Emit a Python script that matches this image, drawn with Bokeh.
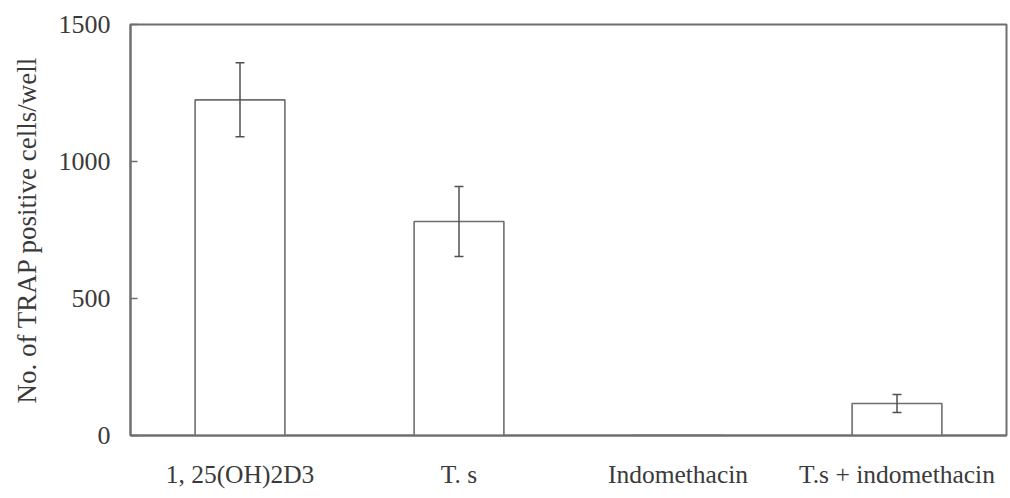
from bokeh.plotting import figure
from bokeh.models import ColumnDataSource, Whisker, TeeHead, FixedTicker, Range1d, FactorRange
from bokeh.embed import file_html
from bokeh.resources import INLINE

# Osteoclast formation per well, mean and SD
treatments = ["1, 25(OH)2D3", "T. s", "Indomethacin", "T.s + indomethacin"]
mean_cells = [1225, 781, 0, 117]
sd_cells = [135, 128, 0, 33]
y_ticks = [0, 500, 1000, 1500]

FONT = "Liberation Serif"
LINE = "#6e6e6e"
TEXT = "#3a3a3a"

p = figure(
    width=1010, height=498,
    x_range=FactorRange(*treatments, range_padding=0),
    y_range=Range1d(0, 1500),
    output_backend="svg", toolbar_location=None,
    min_border_left=130, min_border_right=4, min_border_top=24, min_border_bottom=63,
)

bars = ColumnDataSource(dict(x=treatments, top=mean_cells))
p.vbar(x="x", top="top", width=0.41, source=bars,
       fill_color="white", line_color=LINE, line_width=1.6)

# error bars only where a deviation was measured
idx = [i for i, s in enumerate(sd_cells) if s > 0]
err = ColumnDataSource(dict(
    x=[treatments[i] for i in idx],
    lower=[mean_cells[i] - sd_cells[i] for i in idx],
    upper=[mean_cells[i] + sd_cells[i] for i in idx],
))
p.add_layout(Whisker(
    base="x", lower="lower", upper="upper", source=err, level="overlay",
    line_color="#505050", line_width=1.5,
    upper_head=TeeHead(size=9, line_color="#505050", line_width=1.5),
    lower_head=TeeHead(size=9, line_color="#505050", line_width=1.5),
))

p.xgrid.visible = False
p.ygrid.visible = False
p.background_fill_color = "white"
p.border_fill_color = "white"
p.outline_line_color = LINE
p.outline_line_width = 2

p.yaxis.ticker = FixedTicker(ticks=y_ticks)
p.yaxis.minor_tick_line_color = None
p.yaxis.major_tick_in = 7
p.yaxis.major_tick_out = 0
p.yaxis.major_label_standoff = 20
p.yaxis.axis_label = "No. of TRAP positive cells/well"
p.yaxis.axis_label_standoff = 14
p.yaxis.axis_label_text_font_style = "normal"

p.xaxis.major_tick_line_color = None
p.xaxis.minor_tick_line_color = None
p.xaxis.major_label_standoff = 18

for ax in (p.xaxis, p.yaxis):
    ax.axis_line_color = LINE
    ax.axis_line_width = 2
    ax.major_label_text_font = FONT
    ax.major_label_text_color = TEXT
    ax.axis_label_text_font = FONT
    ax.axis_label_text_font_size = "27px"
    ax.axis_label_text_color = TEXT

p.yaxis.major_tick_line_color = LINE
p.yaxis.major_tick_line_width = 1.5
p.xaxis.major_tick_line_color = None
p.yaxis.major_label_text_font_size = "26px"
p.xaxis.major_label_text_font_size = "25.5px"

open("out.html", "w").write(file_html(p, INLINE))
